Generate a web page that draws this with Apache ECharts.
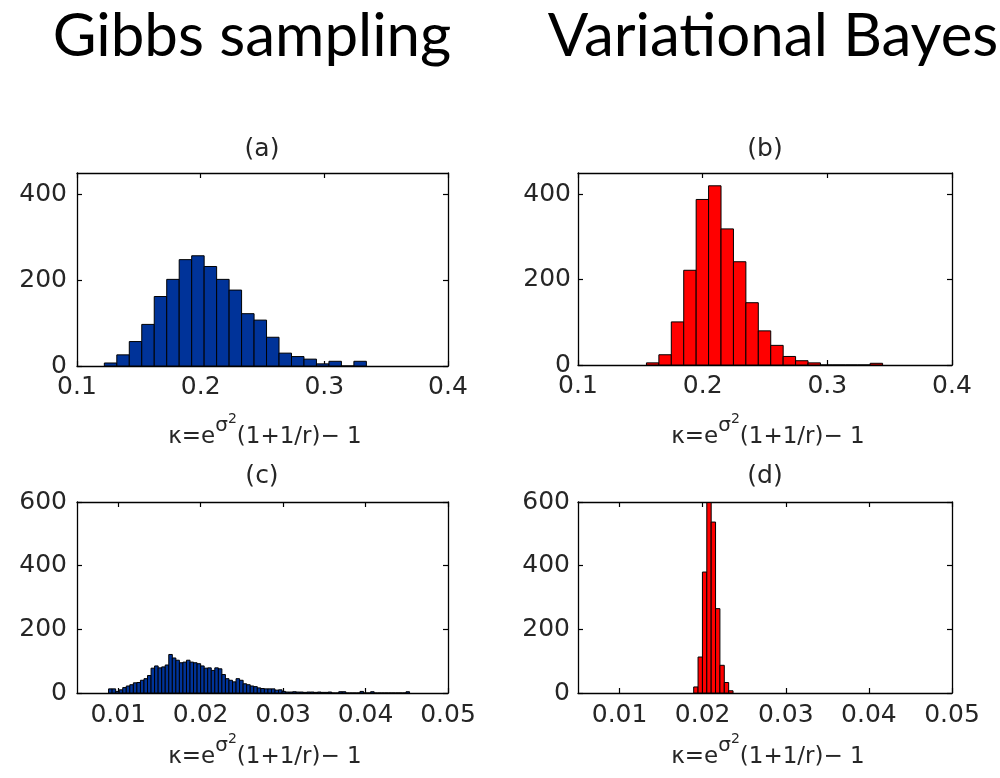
<!DOCTYPE html>
<html><head><meta charset="utf-8">
<script src="https://cdn.jsdelivr.net/npm/echarts@6/dist/echarts.min.js"></script>
<style>html,body{margin:0;padding:0;background:#fff}#c{width:1000px;height:778px}</style>
</head><body><div id="c"></div>
<script>
// ---- data ----
const columnTitles = ['Gibbs sampling', 'Variational Bayes'];
const panelTitles = ['(a)', '(b)', '(c)', '(d)'];
const xTicksTop = [0.1, 0.2, 0.3, 0.4];
const xTicksBottom = [0.01, 0.02, 0.03, 0.04, 0.05];
const yTicksTop = [0, 200, 400];
const yTicksBottom = [0, 200, 400, 600];
// x-axis label pieces: "κ=e" + superscript "σ" + super-superscript "2" + "(1+1/r)− 1"
const xLabelParts = ['κ=e', 'σ', '2', '(1+1/r)− 1'];

// (a) Gibbs, kappa top row
const binStartA = 0.1221, binWidthA = 0.01009;
const countsA = [7, 26, 57, 97, 162, 202, 248, 257, 232, 202, 177, 122, 107, 67, 30, 22, 16, 5, 11, 0, 11];
// (b) Variational Bayes, top row
const binStartB = 0.1549, binWidthB = 0.00997;
const countsB = [5, 24, 101, 222, 388, 420, 319, 242, 146, 80, 46, 20, 10, 5, 0, 0, 0, 0, 4];
// (c) Gibbs, bottom row
const binStartC = 0.00883, binWidthC = 0.0004295;
const countsC = [13, 13, 5, 10, 17, 22, 26, 32, 33, 40, 45, 55, 78, 85, 79, 82, 88, 121, 110, 103,
  95, 97, 103, 97, 95, 92, 85, 78, 79, 71, 79, 76, 58, 45, 40, 35, 45, 40, 29, 26,
  22, 20, 16, 14, 13, 13, 13, 9, 10, 5,
  3, 3, 4, 3, 3, 2, 3, 3, 2, 3, 2, 2, 3,
  0, 0, 4, 4, 0, 0, 0, 0, 5, 0, 0, 4, 0, 0, 0, 0, 0, 0, 0, 0, 0, 4];
// (d) Variational Bayes, bottom row
const binStartD = 0.01892, binWidthD = 0.000526;
const countsD = [19, 113, 380, 598, 537, 265, 87, 33, 7];

// ---- styling ----
const BLUE = '#003399', RED = '#ff0000';
const TXT = '#262626';
const FONT = 'DejaVu Sans';

function bins(start, width, counts) {
  return counts.map((c, i) => [start + i * width, start + (i + 1) * width, c]);
}
function histRender(color) {
  return function (params, api) {
    const p0 = api.coord([api.value(0), 0]);
    const p1 = api.coord([api.value(1), api.value(2)]);
    return {
      type: 'rect',
      shape: { x: p0[0], y: p1[1], width: p1[0] - p0[0], height: p0[1] - p1[1] },
      style: { fill: color, stroke: '#000', lineWidth: 1 }
    };
  };
}

const grids = [
  { left: 77, top: 173, width: 371, height: 193 },
  { left: 578, top: 173, width: 374, height: 192 },
  { left: 77, top: 502, width: 371, height: 191 },
  { left: 578, top: 502, width: 374, height: 191 }
].map(g => Object.assign({ outerBoundsMode: 'none', containLabel: false }, g));

const axisLineStyle = { color: '#000', width: 1.3 };

function xAxes(gi, min, max, ticks, dec, margin) {
  const base = {
    type: 'value', gridIndex: gi, min: min, max: max,
    splitLine: { show: false },
    axisLine: { show: true, onZero: false, lineStyle: axisLineStyle },
    axisTick: { show: true, inside: true, length: 5, customValues: ticks, lineStyle: { color: '#000', width: 1.2 } }
  };
  const bottom = Object.assign({}, base, {
    position: 'bottom',
    axisLabel: { show: true, customValues: ticks, formatter: v => Number(v).toFixed(dec), margin: margin,
      fontFamily: FONT, fontSize: 25, color: TXT, showMinLabel: true, showMaxLabel: true }
  });
  const top = Object.assign({}, base, { position: 'top', axisLabel: { show: false } });
  return [bottom, top];
}
function yAxes(gi, max, ticks, margin) {
  const base = {
    type: 'value', gridIndex: gi, min: 0, max: max,
    splitLine: { show: false },
    axisLine: { show: true, onZero: false, lineStyle: axisLineStyle },
    axisTick: { show: true, inside: true, length: 5, customValues: ticks, lineStyle: { color: '#000', width: 1.2 } }
  };
  const left = Object.assign({}, base, {
    position: 'left',
    axisLabel: { show: true, customValues: ticks, formatter: v => String(Math.round(v)), margin: margin,
      fontFamily: FONT, fontSize: 25, color: TXT, showMinLabel: true, showMaxLabel: true }
  });
  const right = Object.assign({}, base, { position: 'right', axisLabel: { show: false } });
  return [left, right];
}

const xAxis = [].concat(
  xAxes(0, 0.1, 0.4, xTicksTop, 1, 9),
  xAxes(1, 0.1, 0.4, xTicksTop, 1, 9),
  xAxes(2, 0.005, 0.05, xTicksBottom, 2, 10),
  xAxes(3, 0.005, 0.05, xTicksBottom, 2, 10)
);
const yAxis = [].concat(
  yAxes(0, 450, yTicksTop, 10),
  yAxes(1, 450, yTicksTop, 7),
  yAxes(2, 600, yTicksBottom, 10),
  yAxes(3, 600, yTicksBottom, 8)
);

const panels = [
  { data: bins(binStartA, binWidthA, countsA), color: BLUE },
  { data: bins(binStartB, binWidthB, countsB), color: RED },
  { data: bins(binStartC, binWidthC, countsC), color: BLUE },
  { data: bins(binStartD, binWidthD, countsD), color: RED }
];
const series = panels.map((p, i) => ({
  type: 'custom', xAxisIndex: 2 * i, yAxisIndex: 2 * i,
  renderItem: histRender(p.color), clip: true,
  encode: { x: [0, 1], y: 2 }, data: p.data, silent: true
}));

// ---- text layout ----
const mctx = document.createElement('canvas').getContext('2d');
function textWidth(t, size) { mctx.font = size + 'px "' + FONT + '"'; return mctx.measureText(t).width; }
const MID = 0.346; // DejaVu: em-box middle above the alphabetic baseline, in em
function axisNameGraphics(cx, baseline) {
  const sizes = [23, 20, 14, 23];
  const raise = [0, 12, 21, 0];
  const widths = xLabelParts.map((t, i) => textWidth(t, sizes[i]));
  const total = widths.reduce((a, b) => a + b, 0);
  let x = cx - total / 2;
  return xLabelParts.map((t, i) => {
    const el = {
      type: 'text', x: x, y: baseline - raise[i] - MID * sizes[i],
      style: { text: t, font: 'normal ' + sizes[i] + 'px "' + FONT + '"', fill: TXT,
        align: 'left', verticalAlign: 'middle', textAlign: 'left', textVerticalAlign: 'middle' }
    };
    x += widths[i];
    return el;
  });
}

const panelCenters = [[262, 149], [765, 149], [262, 476], [765, 476]];
const nameAnchors = [[265, 445], [768, 445], [265, 765], [768, 765]];
let graphic = [
  { type: 'text', x: 252, y: 37, style: { text: columnTitles[0], font: 'normal 60px Lato', fill: '#000', align: 'center', verticalAlign: 'middle', textAlign: 'center', textVerticalAlign: 'middle' } },
  { type: 'text', x: 773, y: 37, style: { text: columnTitles[1], font: 'normal 60px Lato', fill: '#000', align: 'center', verticalAlign: 'middle', textAlign: 'center', textVerticalAlign: 'middle' } }
].concat(panelTitles.map((t, i) => ({
  type: 'text', x: panelCenters[i][0], y: panelCenters[i][1],
  style: { text: t, font: 'normal 25px "DejaVu Sans"', fill: TXT, align: 'center', verticalAlign: 'middle', textAlign: 'center', textVerticalAlign: 'middle' }
})));
nameAnchors.forEach(a => { graphic = graphic.concat(axisNameGraphics(a[0], a[1])); });

const chart = echarts.init(document.getElementById('c'));
chart.setOption({
  animation: false,
  backgroundColor: '#fff',
  grid: grids,
  xAxis: xAxis,
  yAxis: yAxis,
  series: series,
  graphic: graphic
});
</script></body></html>
